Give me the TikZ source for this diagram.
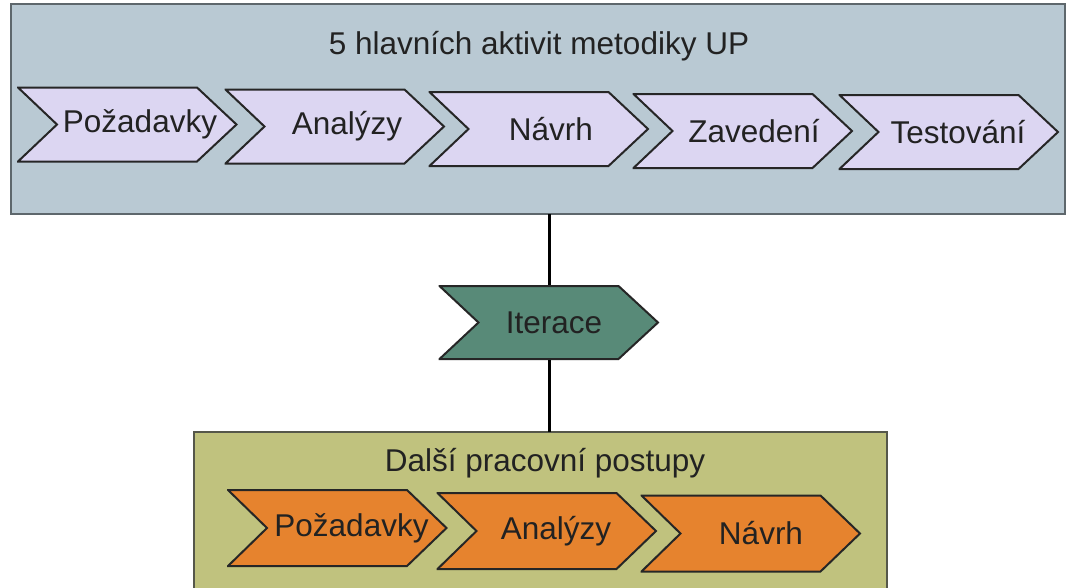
\documentclass[tikz,border=0pt]{standalone}
\usepackage{fontspec}
\setmainfont{Liberation Sans}
\definecolor{ink}{HTML}{222222}
\definecolor{edge}{HTML}{262626}
\definecolor{panelblue}{HTML}{B9C9D3}
\definecolor{panelblueedge}{HTML}{5E676C}
\definecolor{panelolive}{HTML}{C0C27E}
\definecolor{paneloliveedge}{HTML}{55574A}
\definecolor{lavender}{HTML}{DCD6F2}
\definecolor{teal}{HTML}{588A78}
\definecolor{orange}{HTML}{E6832E}
\begin{document}
\begin{tikzpicture}[x=1pt,y=1pt,
  every node/.style={inner sep=0pt, outer sep=0pt},
  lbl/.style={font=\fontsize{31.5}{38}\selectfont, text=ink},
  panel/.style={rectangle, anchor=north west, line width=1.6pt},
  textshift/.style={execute at begin node={\hspace*{#1}}},
  chev/.style={rectangle, lbl, minimum width=221pt, minimum height=76pt,
    path picture={
      \filldraw[fill=#1, draw=edge, line width=2pt, line join=miter]
        ([shift={(1pt,-1pt)}]path picture bounding box.north west)
        -- ([shift={(-41pt,-1pt)}]path picture bounding box.north east)
        -- ([xshift=-1.5pt]path picture bounding box.east)
        -- ([shift={(-41pt,1pt)}]path picture bounding box.south east)
        -- ([shift={(1pt,1pt)}]path picture bounding box.south west)
        -- ([xshift=40pt]path picture bounding box.west) -- cycle;
    }},
  link/.style={draw=black, line width=3pt}
]
\useasboundingbox (0,0) rectangle (1069,-587);
\clip (0,0) rectangle (1069,-587);
\fill[white] (0,0) rectangle (1069,-587);

% upper panel: the five main activities
\node[panel, fill=panelblue, draw=panelblueedge,
      minimum width=1054pt, minimum height=210pt] (topbox) at (11,-4) {};
\node[lbl, anchor=base] (toptitle) at (539,-54) {5 hlavních aktivit metodiky UP};

\node[chev=lavender, textshift=25pt] (req)  at (127.5,-124.5) {Požadavky};
\node[chev=lavender, textshift=24pt] (ana)  at (335,-126.5)   {Analýzy};
\node[chev=lavender, textshift=24pt] (des)  at (539,-129)     {Návrh};
\node[chev=lavender, textshift=22pt] (depl) at (743,-131)     {Zavedení};
\node[chev=lavender, textshift=18pt] (test) at (949,-132)     {Testování};

% iteration marker
\node[chev=teal, minimum height=75pt, textshift=10pt] (iter) at (549,-322.5) {Iterace};

% lower panel: further workflows
\node[panel, fill=panelolive, draw=paneloliveedge,
      minimum width=693pt, minimum height=180pt] (botbox) at (194,-432) {};
\node[lbl, anchor=base] (bottitle) at (545,-471) {Další pracovní postupy};

\node[chev=orange, minimum height=78pt, textshift=28pt] (req2) at (337.5,-528) {Požadavky};
\node[chev=orange, minimum height=78pt, textshift=18pt] (ana2) at (547,-531)   {Analýzy};
\node[chev=orange, minimum height=78pt, textshift=20pt] (des2) at (751,-533.5) {Návrh};

% connectors
\draw[link] (topbox.south -| iter.north) -- (iter.north);
\draw[link] (iter.south) -- (botbox.north -| iter.south);
\end{tikzpicture}
\end{document}
